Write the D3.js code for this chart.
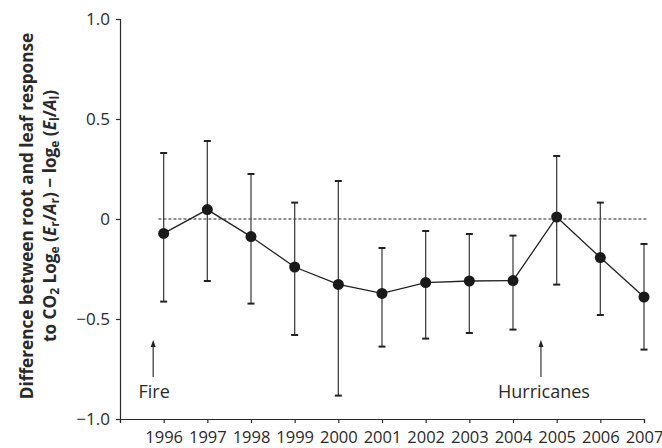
<!DOCTYPE html>
<html><head><meta charset="utf-8">
<script src="https://cdn.jsdelivr.net/npm/d3@7"></script>
<style>body{margin:0;background:#fff}svg{display:block}text{font-family:"Open Sans",sans-serif}</style>
</head><body>
<svg id="c" width="662" height="448"></svg>
<script>
const years = [1996,1997,1998,1999,2000,2001,2002,2003,2004,2005,2006,2007];
const means = [-0.072,0.047,-0.088,-0.24,-0.327,-0.372,-0.318,-0.31,-0.308,0.01,-0.193,-0.39];
const upper = [0.33,0.39,0.225,0.082,0.19,-0.145,-0.06,-0.075,-0.083,0.315,0.082,-0.125];
const lower = [-0.413,-0.31,-0.423,-0.58,-0.883,-0.638,-0.598,-0.57,-0.553,-0.328,-0.48,-0.653];
const yTicks = [1.0,0.5,0,-0.5,-1.0];
const yTickLabels = ["1.0","0.5","0","\u22120.5","\u22121.0"];
const events = [{year:1995.76,label:"Fire",dx:1},{year:2004.64,label:"Hurricanes",dx:3}];

const svg = d3.select("#c");
const x = d3.scaleLinear().domain([1995,2007]).range([120,644]);
const y = d3.scaleLinear().domain([-1,1]).range([419,19]);
const ink = "#2a2a2a";

// y axis
const ya = svg.append("g").attr("transform","translate(120,0)")
  .call(d3.axisLeft(y).tickValues(yTicks).tickSize(4).tickPadding(6).tickFormat((d,i)=>yTickLabels[i]));
ya.select(".domain").attr("stroke",ink).attr("stroke-width",1.2);
ya.selectAll(".tick line").attr("stroke",ink).attr("stroke-width",1.2);
ya.selectAll(".tick text").attr("font-size",17).attr("fill","#2a2a2a").style("font-family","'Open Sans',sans-serif");

// x axis
const xa = svg.append("g").attr("transform","translate(0,419)")
  .call(d3.axisBottom(x).tickValues([1995].concat(years)).tickSize(4).tickPadding(8)
    .tickFormat(d=>d===1995?"":String(d)));
xa.select(".domain").attr("stroke",ink).attr("stroke-width",1.2);
xa.selectAll(".tick line").attr("stroke",ink).attr("stroke-width",1.2);
xa.selectAll(".tick text").attr("font-size",16.5).attr("fill","#2a2a2a").style("font-family","'Open Sans',sans-serif");

// zero dashed line
svg.append("line").attr("x1",x(1995.88)).attr("x2",x(2007.1)).attr("y1",y(0)).attr("y2",y(0))
  .attr("stroke","#222").attr("stroke-width",1).attr("stroke-dasharray","3,2");

// error bars
const eb = svg.append("g");
years.forEach((yr,i)=>{
  eb.append("line").attr("x1",x(yr)).attr("x2",x(yr)).attr("y1",y(upper[i])).attr("y2",y(lower[i]))
    .attr("stroke","#444").attr("stroke-width",1.3);
  [upper[i],lower[i]].forEach(v=>{
    eb.append("line").attr("x1",x(yr)-3.5).attr("x2",x(yr)+3.5).attr("y1",y(v)).attr("y2",y(v))
      .attr("stroke","#222").attr("stroke-width",2);
  });
});

// connecting line
svg.append("path").datum(years.map((yr,i)=>[yr,means[i]]))
  .attr("d",d3.line().x(d=>x(d[0])).y(d=>y(d[1])))
  .attr("fill","none").attr("stroke","#222").attr("stroke-width",1.3);

// points
svg.append("g").selectAll("circle").data(years).join("circle")
  .attr("cx",d=>x(d)).attr("cy",(d,i)=>y(means[i])).attr("r",5.5).attr("fill","#1a1a1a");

// events
events.forEach(e=>{
  const ex = x(e.year);
  svg.append("line").attr("x1",ex).attr("x2",ex).attr("y1",377).attr("y2",345)
    .attr("stroke","#444").attr("stroke-width",1.3);
  svg.append("path").attr("d",`M${ex},340 L${ex-2.5},347 L${ex+2.5},347 Z`).attr("fill","#222");
  svg.append("text").attr("x",ex+e.dx).attr("y",398).attr("text-anchor","middle")
    .attr("font-size",18).attr("fill","#2a2a2a").text(e.label);
});

// y label
const lab = svg.append("g").attr("transform","translate(0,216) rotate(-90)")
  .attr("font-weight","bold").attr("font-size",17.2).attr("fill","#2a2a2a");
lab.append("text").attr("x",0).attr("y",33).attr("text-anchor","middle").text("Difference between root and leaf response");
const t2 = lab.append("text").attr("x",0).attr("y",56).attr("text-anchor","middle");
const parts = [
  ["to CO",null],["2","sub"],[" Log",null],["e","sub"],[" (",null],["E","it"],["r","sub"],["/",null],["A","it"],["r","sub"],[") \u2212 log",null],["e","sub"],[" (",null],["E","it"],["l","sub"],["/",null],["A","it"],["l","sub"],[")",null]
];
parts.forEach(([s,k])=>{
  const ts = t2.append("tspan").text(s);
  if(k==="sub") ts.attr("baseline-shift","-25%").attr("font-size",12);
  if(k==="it") ts.attr("font-style","italic");
});
</script>
</body></html>
